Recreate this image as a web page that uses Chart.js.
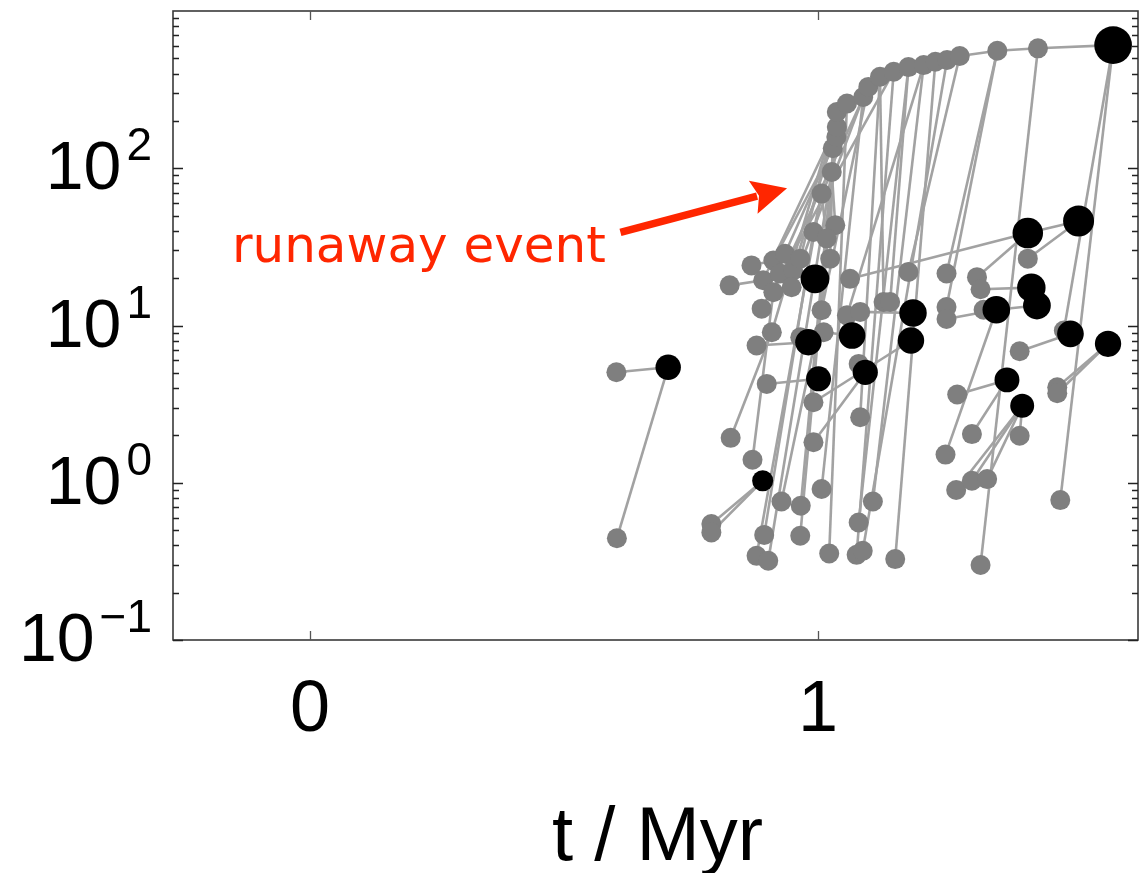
<!DOCTYPE html>
<html><head><meta charset="utf-8">
<script src="https://cdn.jsdelivr.net/npm/chart.js@4/dist/chart.umd.min.js"></script>
<style>html,body{margin:0;padding:0;background:#fff;}#wrap{width:1140px;height:873px;}</style>
</head><body><div id="wrap"><canvas id="c" width="1140" height="873"></canvas></div>
<script>
// ---- data: merger-tree nodes (time in Myr, mass) ----
const nodeT = [
 1.007,1.027,1.029,1.036,1.037,1.037,1.057,1.089,1.099,1.122,1.149,1.178,1.208,1.231,1.254,1.279,1.353,1.433,1.581,
 0.603,0.604,0.705, 0.790,0.790,0.891,
 0.826,0.869,0.879,0.899,0.889,0.909,0.828,0.871,
 0.892,0.912,0.935,0.925,0.951,0.965,0.948,0.912,
 0.991,1.034,1.017,1.024,
 0.981,0.994,1.067,1.093,1.001,
 1.007,0.965,1.011,1.063,1.057,1.083,1.129,0.991,1.080,1.083,0.991,1.007,0.928,0.966,0.894,0.965,0.879,0.902,
 1.022,1.076,1.088,1.080,1.108,1.152,1.142,1.178,1.253,1.253,1.253,1.313,1.320,1.326,1.413,1.397,1.484,1.471,1.471,
 1.274,1.303,1.251,1.272,1.303,1.333,1.397,1.320,1.477,
 1.413,1.513,1.420,1.431,1.351,1.187,1.183,1.497,1.571,1.372,1.402
];
const nodeM = [
 69.0,94.7,134,158,183,228,258,284,329,382,411,440,453,476,488,517,559,579,607,
 5.04,0.444,5.43, 0.546,0.483,1.03,
 18.0,24.1,7.46,4.25,12.8,9.06,1.93,1.40,
 19.4,25.9,28.6,21.4,22.4,26.6,17.5,16.3,
 39.3,43.4,35.8,26.6,
 7.83,19.8,8.64,5.04,4.58,
 12.5,8.42,9.06,19.8,11.6,12.2,14.1,3.25,5.70,2.61,1.81,0.912,0.760,0.714,0.466,0.460,0.343,0.319,
 0.355,0.348,0.369,0.559,0.760,0.327,14.1,21.9,21.4,13.1,11.0,20.3,17.0,12.6,26.6,6.86,9.29,4.05,3.71,
 3.64,2.04,1.51,0.899,1.03,1.055,1.99,0.300,0.776,
 38.7,46.2,17.4,13.4,12.6,12.0,8.03,8.85,7.65,4.51,3.09
];
// indices of final (black) merger products
const finalNodes = [18,21,24,45,46,47,48,49,96,97,98,99,100,101,102,103,104,105,106];
// merger links: progenitor -> product
const edgeFrom = [0,1,2,3,4,5,6,7,8,9,10,11,12,13,14,15,16,17,
 41,43,66, 42,67, 44,34, 50,35, 65,37, 63,38,30, 68,33, 61,39, 40,62, 56,59, 69,29, 71,74, 72,54, 73, 70, 75, 76,77, 94, 95,84,
 64,31,32,25,26,36, 19,20, 22,23, 27,51, 28, 52, 60,58, 57, 55, 53,79, 96,82, 80, 81,78,89, 100, 83, 85,86, 87,88, 90,91,92,93];
const edgeTo = [1,2,3,4,5,6,7,8,9,10,11,12,13,14,15,16,17,18,
 0,0,0, 1,1, 2,2, 3,3, 4,4, 5,5,5, 6,6, 7,7, 8,8, 9,9, 10,10, 11,11, 12,12, 13, 14, 15, 16,16, 17, 18,18,
 41,30,40,33,34,46, 21,21, 24,24, 45,45, 49, 47, 48,48, 102, 101, 96,96, 97,97, 98, 100,100,100, 99, 103, 104,104, 105,105, 106,106,106,106];
// axis ticks and labels
const xTickValues = [0, 1];
const xTickLabels = ['0', '1'];
const yDecades = [-1, 0, 1, 2];
const yTickExponents = ['\u22121', '0', '1', '2'];
const xTitle = 't / Myr';
const noteText = 'runaway event';

// ---- annotation placement (data coords) & styles ----
const NOTE = {textT: -0.154, textM: 25.2, tailT: 0.611, tailM: 39.1, tipT: 0.939, tipM: 74.6, color: '#ff2600'};
const AX_FONT = '"Liberation Sans", Arial, sans-serif';

const pts = nodeT.map((t, i) => ({x: t, y: nodeM[i]}));
const finalSet = new Set(finalNodes);
const edgeSets = edgeFrom.map((f, k) => ({
  data: [pts[f], pts[edgeTo[k]]], showLine: true, borderColor: '#a2a2a2', borderWidth: 2.6,
  pointRadius: 0, pointHoverRadius: 0, order: 3
}));
const greySet = {data: pts.filter((p, i) => !finalSet.has(i)), pointRadius: 10, pointHoverRadius: 10,
  backgroundColor: '#7f7f7f', borderWidth: 0, showLine: false, order: 2};
const blackSet = {data: pts.filter((p, i) => finalSet.has(i)),
  pointRadius: c => 10.5 + 3 * Math.log10(c.raw.y), pointHoverRadius: c => 10.5 + 3 * Math.log10(c.raw.y),
  backgroundColor: '#000', borderWidth: 0, showLine: false, order: 1};

const axesPlugin = {
  id: 'axesPlugin',
  afterDraw(chart) {
    const {ctx, chartArea: a, scales: {x, y}} = chart;
    ctx.save();
    // frame
    ctx.strokeStyle = '#3a3a3a'; ctx.lineWidth = 1.6;
    ctx.strokeRect(a.left, a.top, a.right - a.left, a.bottom - a.top);
    // y ticks (inward, both sides)
    ctx.strokeStyle = '#222'; ctx.lineWidth = 1.3;
    for (let d = -1; d <= 2; d++) {
      for (let k = 1; k <= 9; k++) {
        const v = k * Math.pow(10, d);
        const py = Math.round(y.getPixelForValue(v)) + 0.5;
        const len = k === 1 ? 10 : 6;
        ctx.beginPath();
        ctx.moveTo(a.left, py); ctx.lineTo(a.left + len, py);
        ctx.moveTo(a.right, py); ctx.lineTo(a.right - len, py);
        ctx.stroke();
      }
    }
    // x ticks
    ctx.strokeStyle = '#555';
    xTickValues.forEach(v => {
      const px = Math.round(x.getPixelForValue(v)) + 0.5;
      ctx.beginPath();
      ctx.moveTo(px, a.bottom); ctx.lineTo(px, a.bottom - 9);
      ctx.moveTo(px, a.top); ctx.lineTo(px, a.top + 9);
      ctx.stroke();
    });
    ctx.fillStyle = '#000';
    // x tick labels
    ctx.font = '72px ' + AX_FONT; ctx.textAlign = 'center'; ctx.textBaseline = 'alphabetic';
    xTickValues.forEach((v, i) => ctx.fillText(xTickLabels[i], x.getPixelForValue(v), a.bottom + 91));
    // x title
    ctx.font = '76px ' + AX_FONT;
    ctx.fillText(xTitle, (a.left + a.right) / 2 + 2, 860);
    // y tick labels with superscript exponent
    const R = a.left - 21;
    yDecades.forEach((d, i) => {
      const py = y.getPixelForValue(Math.pow(10, d));
      ctx.textAlign = 'right';
      ctx.font = '46px ' + AX_FONT;
      const ew = ctx.measureText(yTickExponents[i]).width;
      ctx.fillText(yTickExponents[i], R, py - 8);
      ctx.font = '68px ' + AX_FONT;
      ctx.fillText('10', R - ew - 5, py + 21);
    });
    ctx.restore();
  },
  afterDatasetsDraw(chart) {
    const {ctx, scales: {x, y}} = chart;
    ctx.save();
    ctx.fillStyle = NOTE.color; ctx.strokeStyle = NOTE.color;
    ctx.font = '50px "DejaVu Sans", sans-serif'; ctx.textAlign = 'left'; ctx.textBaseline = 'alphabetic';
    ctx.fillText(noteText, x.getPixelForValue(NOTE.textT), y.getPixelForValue(NOTE.textM));
    const x0 = x.getPixelForValue(NOTE.tailT), y0 = y.getPixelForValue(NOTE.tailM);
    const x1 = x.getPixelForValue(NOTE.tipT), y1 = y.getPixelForValue(NOTE.tipM);
    const L = Math.hypot(x1 - x0, y1 - y0), ux = (x1 - x0) / L, uy = (y1 - y0) / L;
    const hl = 35, hw = 17;
    const bx = x1 - ux * hl, by = y1 - uy * hl;
    ctx.lineWidth = 7.5; ctx.lineCap = 'butt';
    ctx.beginPath(); ctx.moveTo(x0, y0); ctx.lineTo(bx + ux * 4, by + uy * 4); ctx.stroke();
    ctx.beginPath();
    ctx.moveTo(x1, y1);
    ctx.lineTo(bx - uy * hw, by + ux * hw);
    ctx.lineTo(bx + ux * 6, by + uy * 6);
    ctx.lineTo(bx + uy * hw, by - ux * hw);
    ctx.closePath(); ctx.fill();
    ctx.restore();
  }
};

new Chart(document.getElementById('c'), {
  type: 'scatter',
  data: {datasets: [...edgeSets, greySet, blackSet]},
  options: {
    responsive: false, animation: false, events: [],
    layout: {autoPadding: false, padding: {top: 11, right: 2, left: 0, bottom: 0}},
    plugins: {legend: {display: false}, tooltip: {enabled: false}},
    scales: {
      x: {type: 'linear', min: -0.27, max: 1.63, grid: {display: false}, border: {display: false},
          ticks: {display: false}, afterFit: s => { s.height = 233; }},
      y: {type: 'logarithmic', min: 0.1, max: 1000, grid: {display: false}, border: {display: false},
          ticks: {display: false}, afterFit: s => { s.width = 173; }}
    }
  },
  plugins: [axesPlugin]
});
</script></body></html>
